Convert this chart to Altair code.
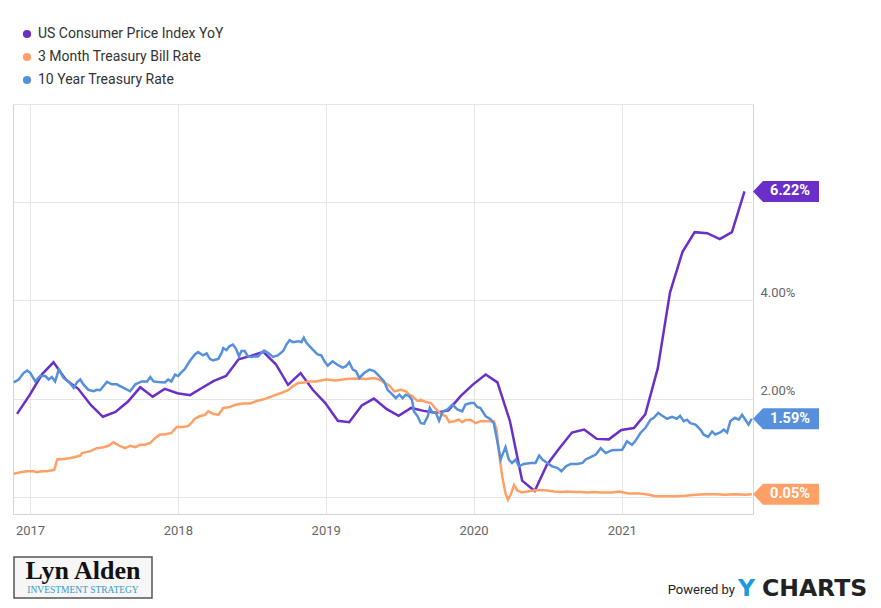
import altair as alt
import pandas as pd

# ---------------- data ----------------
SERIES = ["US Consumer Price Index YoY", "3 Month Treasury Bill Rate", "10 Year Treasury Rate"]
COLORS = ["#6B2FC9", "#FFA066", "#5690DC"]

# CPI YoY, monthly (month-end), Nov 2016 .. Oct 2021
cpi_start = "2016-12-01"
cpi_values = [1.69, 2.07,
              2.50, 2.74, 2.38, 2.20, 1.87, 1.63, 1.73, 1.94, 2.23, 2.04, 2.20, 2.11,
              2.07, 2.21, 2.36, 2.46, 2.80, 2.87, 2.95, 2.70, 2.28, 2.52, 2.18, 1.91,
              1.55, 1.52, 1.86, 2.00, 1.79, 1.65, 1.81, 1.75, 1.71, 1.76, 2.05, 2.29,
              2.49, 2.33, 1.54, 0.33, 0.12, 0.65, 0.99, 1.31, 1.37, 1.18, 1.17, 1.36,
              1.40, 1.68, 2.62, 4.16, 4.99, 5.39, 5.37, 5.25, 5.39, 6.22]

# 3 Month Treasury Bill (decimal years, percent)
t3m_years = [2016.891, 2016.936, 2016.981, 2017.026, 2017.049, 2017.082, 2017.116, 2017.150, 2017.166,
             2017.184, 2017.228, 2017.274, 2017.319, 2017.341, 2017.353, 2017.409, 2017.454, 2017.499,
             2017.532, 2017.566, 2017.611, 2017.645, 2017.679, 2017.713, 2017.747, 2017.780, 2017.814,
             2017.848, 2017.882, 2017.914, 2017.958, 2017.992, 2018.037, 2018.071, 2018.093, 2018.116,
             2018.150, 2018.184, 2018.206, 2018.240, 2018.274, 2018.307, 2018.353, 2018.397, 2018.443,
             2018.488, 2018.532, 2018.578, 2018.623, 2018.668, 2018.713, 2018.747, 2018.780, 2018.814,
             2018.859, 2018.882, 2018.936, 2019.003, 2019.071, 2019.139, 2019.206, 2019.274, 2019.330,
             2019.364, 2019.397, 2019.431, 2019.465, 2019.510, 2019.544, 2019.566, 2019.589, 2019.623,
             2019.645, 2019.679, 2019.713, 2019.747, 2019.780, 2019.814, 2019.836, 2019.870, 2019.902,
             2019.924, 2019.947, 2019.981, 2020.015, 2020.049, 2020.093, 2020.139, 2020.157, 2020.173,
             2020.195, 2020.218, 2020.233, 2020.255, 2020.274, 2020.296, 2020.330, 2020.364, 2020.409,
             2020.443, 2020.499, 2020.544, 2020.589, 2020.634, 2020.679, 2020.724, 2020.769, 2020.814,
             2020.859, 2020.936, 2020.981, 2021.049, 2021.116, 2021.184, 2021.228, 2021.297, 2021.364,
             2021.432, 2021.499, 2021.566, 2021.634, 2021.701, 2021.769, 2021.836, 2021.882]
t3m_values = [0.47, 0.50, 0.52, 0.52, 0.50, 0.52, 0.52, 0.54, 0.55,
              0.76, 0.77, 0.79, 0.82, 0.84, 0.89, 0.93, 0.99, 1.01,
              1.04, 1.11, 1.03, 0.99, 1.04, 1.01, 1.06, 1.06, 1.10,
              1.20, 1.27, 1.27, 1.30, 1.42, 1.42, 1.44, 1.50, 1.59,
              1.64, 1.67, 1.74, 1.69, 1.67, 1.81, 1.83, 1.88, 1.90,
              1.90, 1.95, 1.98, 2.03, 2.08, 2.13, 2.17, 2.25, 2.32,
              2.33, 2.35, 2.35, 2.39, 2.37, 2.40, 2.41, 2.40, 2.42,
              2.39, 2.33, 2.27, 2.15, 2.18, 2.15, 2.08, 2.05, 1.95,
              1.98, 1.93, 1.91, 1.79, 1.69, 1.64, 1.52, 1.54, 1.57,
              1.52, 1.56, 1.57, 1.50, 1.54, 1.54, 1.54, 1.37, 0.89,
              0.41, 0.07, -0.06, 0.07, 0.24, 0.13, 0.09, 0.11, 0.13,
              0.14, 0.13, 0.11, 0.10, 0.11, 0.10, 0.10, 0.09, 0.10,
              0.09, 0.09, 0.11, 0.07, 0.07, 0.04, 0.01, 0.01, 0.01,
              0.02, 0.04, 0.05, 0.05, 0.04, 0.05, 0.04, 0.05]

# 10 Year Treasury (decimal years, percent)
t10_years = [2016.891, 2016.924, 2016.958, 2016.981, 2017.003, 2017.037, 2017.071, 2017.105, 2017.127,
             2017.150, 2017.172, 2017.195, 2017.228, 2017.262, 2017.296, 2017.319, 2017.341, 2017.364,
             2017.397, 2017.431, 2017.454, 2017.476, 2017.522, 2017.555, 2017.589, 2017.634, 2017.679,
             2017.713, 2017.758, 2017.792, 2017.814, 2017.836, 2017.870, 2017.914, 2017.936, 2017.958,
             2017.981, 2018.003, 2018.026, 2018.049, 2018.082, 2018.116, 2018.139, 2018.172, 2018.195,
             2018.218, 2018.240, 2018.274, 2018.296, 2018.307, 2018.330, 2018.353, 2018.375, 2018.397,
             2018.414, 2018.431, 2018.454, 2018.476, 2018.499, 2018.522, 2018.544, 2018.566, 2018.584,
             2018.611, 2018.645, 2018.679, 2018.713, 2018.735, 2018.758, 2018.780, 2018.814, 2018.836,
             2018.853, 2018.870, 2018.891, 2018.914, 2018.947, 2018.970, 2018.992, 2019.015, 2019.049,
             2019.082, 2019.116, 2019.139, 2019.161, 2019.184, 2019.206, 2019.228, 2019.262, 2019.296,
             2019.330, 2019.364, 2019.397, 2019.420, 2019.454, 2019.476, 2019.499, 2019.522, 2019.544,
             2019.566, 2019.584, 2019.600, 2019.623, 2019.645, 2019.668, 2019.691, 2019.706, 2019.724,
             2019.747, 2019.769, 2019.792, 2019.826, 2019.859, 2019.891, 2019.924, 2019.947, 2019.981,
             2020.003, 2020.026, 2020.049, 2020.082, 2020.116, 2020.139, 2020.161, 2020.184, 2020.201,
             2020.218, 2020.240, 2020.262, 2020.285, 2020.307, 2020.341, 2020.386, 2020.420, 2020.443,
             2020.465, 2020.499, 2020.532, 2020.566, 2020.593, 2020.623, 2020.657, 2020.701, 2020.735,
             2020.758, 2020.792, 2020.826, 2020.859, 2020.891, 2020.936, 2021.003, 2021.037, 2021.071,
             2021.093, 2021.127, 2021.161, 2021.195, 2021.218, 2021.247, 2021.274, 2021.307, 2021.341,
             2021.375, 2021.397, 2021.420, 2021.443, 2021.465, 2021.499, 2021.533, 2021.555, 2021.584,
             2021.611, 2021.634, 2021.668, 2021.691, 2021.713, 2021.735, 2021.765, 2021.792, 2021.814,
             2021.836, 2021.859, 2021.882]
t10_values = [2.33, 2.39, 2.52, 2.57, 2.52, 2.35, 2.46, 2.46, 2.39,
              2.44, 2.35, 2.59, 2.42, 2.35, 2.22, 2.33, 2.39, 2.29,
              2.18, 2.15, 2.18, 2.17, 2.34, 2.29, 2.29, 2.22, 2.15,
              2.29, 2.35, 2.35, 2.44, 2.35, 2.34, 2.33, 2.39, 2.35,
              2.49, 2.46, 2.54, 2.60, 2.76, 2.90, 2.95, 2.88, 2.92,
              2.81, 2.78, 2.81, 2.93, 3.03, 2.99, 3.07, 3.10, 3.01,
              2.86, 2.97, 2.97, 2.86, 2.85, 2.86, 2.86, 2.93, 2.98,
              2.93, 2.85, 2.88, 2.97, 3.10, 3.19, 3.15, 3.17, 3.15,
              3.24, 3.14, 3.07, 3.00, 2.90, 2.88, 2.76, 2.67, 2.76,
              2.69, 2.63, 2.66, 2.74, 2.59, 2.56, 2.42, 2.52, 2.59,
              2.56, 2.46, 2.35, 2.18, 2.08, 2.01, 2.08, 2.01, 2.08,
              2.05, 1.98, 1.74, 1.64, 1.50, 1.49, 1.64, 1.81, 1.71,
              1.71, 1.55, 1.74, 1.78, 1.88, 1.78, 1.74, 1.88, 1.91,
              1.91, 1.83, 1.81, 1.64, 1.58, 1.50, 1.16, 0.76, 0.89,
              1.01, 0.76, 0.69, 0.76, 0.62, 0.67, 0.69, 0.69, 0.84,
              0.76, 0.69, 0.62, 0.59, 0.52, 0.62, 0.67, 0.67, 0.69,
              0.76, 0.81, 0.86, 0.99, 0.89, 0.95, 0.96, 1.13, 1.06,
              1.13, 1.30, 1.40, 1.57, 1.61, 1.71, 1.65, 1.59, 1.63,
              1.59, 1.65, 1.54, 1.57, 1.50, 1.47, 1.37, 1.27, 1.22,
              1.33, 1.27, 1.31, 1.37, 1.31, 1.54, 1.61, 1.57, 1.67,
              1.57, 1.47, 1.59]

YEAR_TICKS = [2017, 2018, 2019, 2020, 2021]
X_END = "2021-11-21"


# ---------------- build table ----------------
def year_to_date(y):
    year = int(y)
    start = pd.Timestamp(year=year, month=1, day=1)
    end = pd.Timestamp(year=year + 1, month=1, day=1)
    return (start + (end - start) * (y - year)).normalize()


cpi_dates = list(pd.date_range(cpi_start, periods=len(cpi_values), freq="MS") - pd.Timedelta(days=1))

frames = [
    pd.DataFrame({"date": cpi_dates, "value": cpi_values, "series": SERIES[0]}),
    pd.DataFrame({"date": [year_to_date(y) for y in t3m_years], "value": t3m_values, "series": SERIES[1]}),
    pd.DataFrame({"date": [year_to_date(y) for y in t10_years], "value": t10_values, "series": SERIES[2]}),
]
df = pd.concat(frames, ignore_index=True)

last_vals = [cpi_values[-1], t3m_values[-1], t10_values[-1]]
tags = pd.DataFrame({
    "date": [pd.Timestamp(X_END)] * 3,
    "value": last_vals,
    "series": SERIES,
    "label": [f"{v:.2f}%" for v in last_vals],
})

FONT = "Roboto"
W, H = 740, 410

xscale = alt.Scale(domain=[alt.DateTime(year=2016, month=11, date=20),
                           alt.DateTime(year=2021, month=11, date=21)])
yscale = alt.Scale(domain=[-0.35, 8], nice=False, zero=False)
cscale = alt.Scale(domain=SERIES, range=COLORS)

x_axis = alt.Axis(values=[alt.DateTime(year=y, month=1, date=1) for y in YEAR_TICKS],
                  format="%Y", labelAlign="center", labelFlush=False, grid=True,
                  ticks=False, domain=False, labelPadding=10, labelFontSize=13,
                  labelColor="#666666", labelFont=FONT, title=None)
# 0.00% and 6.00% sit under the value tags, the top line carries no label
y_axis = alt.Axis(orient="right", values=[0, 2, 4, 6, 8],
                  labelExpr="(datum.value == 2 || datum.value == 4) ? format(datum.value, '.2f') + '%' : ''",
                  ticks=False, domain=False, grid=True, labelPadding=7,
                  labelBaseline="alphabetic", labelOffset=-4, labelFontSize=13,
                  labelColor="#666666", labelFont=FONT, title=None, labelFlush=False)

lines = alt.Chart(df).mark_line(strokeWidth=2.5, interpolate="linear").encode(
    x=alt.X("date:T", scale=xscale, axis=x_axis),
    y=alt.Y("value:Q", scale=yscale, axis=y_axis),
    color=alt.Color("series:N", scale=cscale,
                    legend=alt.Legend(orient="none", legendX=7, legendY=-77, title=None,
                                      symbolType="circle", symbolSize=14, symbolStrokeWidth=4.5,
                                      labelFontSize=14, labelFont=FONT, labelColor="#333333",
                                      labelLimit=400, labelOffset=4, rowPadding=1, padding=0)),
)

TAG_PATH = "M0,0 L1,-1.05 L6.6,-1.05 L6.6,1.05 L1,1.05 Z"
tag_shape = alt.Chart(tags).mark_point(shape=TAG_PATH, size=400, filled=True, opacity=1,
                                       strokeWidth=0).encode(
    x=alt.X("date:T", scale=xscale),
    y=alt.Y("value:Q", scale=yscale),
    color=alt.Color("series:N", scale=cscale, legend=None),
)
tag_text = alt.Chart(tags).mark_text(dx=37, align="center", baseline="middle", color="white",
                                     font=FONT, fontSize=14.5, fontWeight="bold").encode(
    x=alt.X("date:T", scale=xscale),
    y=alt.Y("value:Q", scale=yscale),
    text="label:N",
)

one = pd.DataFrame({"k": [0]})
logo_box = alt.Chart(one).mark_rect(fill="#f6f6f6", stroke="#555555", strokeWidth=1.5).encode(
    x=alt.value(1), x2=alt.value(139), y=alt.value(453), y2=alt.value(494))
logo_name = alt.Chart(one).mark_text(text="Lyn Alden", font="Liberation Serif", fontSize=26,
                                     fontWeight="bold", color="#111111", align="center",
                                     baseline="middle").encode(x=alt.value(70), y=alt.value(467))
logo_sub = alt.Chart(one).mark_text(text="INVESTMENT STRATEGY", font="Liberation Serif", fontSize=9.5,
                                    color="#3399CC", align="center",
                                    baseline="middle").encode(x=alt.value(70), y=alt.value(485.5))
powered = alt.Chart(one).mark_text(text="Powered by", font=FONT, fontSize=13, color="#222222",
                                   align="right", baseline="middle").encode(x=alt.value(722), y=alt.value(486))
ych_y = alt.Chart(one).mark_text(text="Y", font="DejaVu Sans", fontSize=23.5, fontWeight="bold",
                                 color="#1A9BE0", align="left",
                                 baseline="middle").encode(x=alt.value(725), y=alt.value(484.5))
ych_c = alt.Chart(one).mark_text(text="CHARTS", font="DejaVu Sans", fontSize=23.5, fontWeight="bold",
                                 color="#222222", align="left",
                                 baseline="middle").encode(x=alt.value(749), y=alt.value(484.5))

chart = alt.layer(lines, tag_shape, tag_text, logo_box, logo_name, logo_sub, powered, ych_y, ych_c).properties(
    width=W, height=H,
    padding={"left": 5, "top": 96, "right": 120, "bottom": 86},
    autosize=alt.AutoSizeParams(type="none"),
    background="white",
).configure_view(stroke="#d4d4d4", strokeWidth=1).configure_axis(gridColor="#e6e6e6", gridWidth=1)

chart.save("out.html", embed_options={"renderer": "svg", "actions": False})
